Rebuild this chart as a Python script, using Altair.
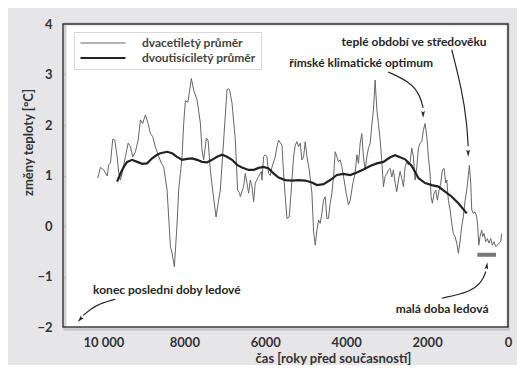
import altair as alt
import pandas as pd

# --- data -------------------------------------------------------------
thin_years = [10140, 10074, 9992, 9908, 9869, 9827, 9770, 9721, 9661, 9622, 9580, 9538, 9457, 9390,
              9333, 9276, 9210, 9143, 9086, 9029, 8963, 8896, 8839, 8782, 8716, 8649, 8567, 8511,
              8427, 8345, 8303, 8246, 8180, 8141, 8098, 8057, 8017, 7975, 7913, 7827, 7770, 7686,
              7605, 7563, 7523, 7456, 7414, 7358, 7301, 7217, 7153, 7111, 7029, 6945, 6905, 6881,
              6822, 6740, 6684, 6634, 6618, 6536, 6494, 6452, 6412, 6370, 6329, 6288, 6247, 6165,
              6098, 6081, 6042, 6000, 5958, 5918, 5876, 5834, 5753, 5711, 5671, 5587, 5548, 5506,
              5464, 5407, 5358, 5301, 5259, 5217, 5177, 5136, 5094, 5053, 5012, 4970, 4913, 4847,
              4807, 4765, 4723, 4683, 4642, 4600, 4560, 4518, 4477, 4437, 4395, 4353, 4312, 4271,
              4229, 4189, 4148, 4106, 4066, 4000, 3943, 3901, 3834, 3778, 3736, 3696, 3654, 3613,
              3573, 3531, 3489, 3449, 3407, 3366, 3326, 3284, 3242, 3203, 3160, 3118, 3079, 3037,
              2995, 2955, 2913, 2872, 2832, 2790, 2749, 2708, 2667, 2625, 2585, 2543, 2501, 2461,
              2420, 2378, 2338, 2296, 2254, 2215, 2173, 2131, 2091, 2049, 2007, 1968, 1926, 1901,
              1869, 1827, 1785, 1746, 1704, 1662, 1622, 1580, 1538, 1514, 1474, 1432, 1390, 1351,
              1309, 1267, 1227, 1185, 1143, 1104, 1062, 1020, 980, 955, 921, 896, 857, 815, 773,
              748, 723, 691, 649, 625, 593, 551, 511, 469, 427, 388, 346, 304, 264, 222, 180, 156]
thin_values = [0.95, 1.16, 1.11, 0.99, 1.21, 1.25, 1.72, 1.70, 1.37, 1.05, 0.91, 1.05, 1.37, 1.64,
               1.57, 1.37, 1.47, 1.70, 2.10, 2.03, 2.20, 2.03, 1.83, 1.77, 1.57, 1.41, 1.24, 1.17,
               0.71, -0.41, -0.54, -0.81, 0.06, 0.71, 1.04, 1.37, 2.03, 2.48, 2.45, 2.92, 2.69, 2.50,
               2.04, 1.50, 1.31, 1.74, 1.70, 1.11, 0.71, 0.18, 0.51, 0.71, 1.70, 2.70, 2.72, 2.69,
               2.43, 1.70, 0.71, 0.65, 0.58, 0.78, 1.04, 0.85, 0.65, 0.91, 0.78, 0.48, 0.85, 0.98,
               1.08, 0.91, 1.37, 1.41, 1.37, 1.04, 1.00, 1.17, 1.37, 1.57, 1.70, 1.60, 1.04, 0.58,
               0.15, 0.18, 0.71, 1.37, 1.60, 1.67, 1.57, 1.64, 1.31, 1.37, 1.67, 1.37, 1.11, 0.65,
               -0.10, -0.38, -0.08, 0.12, 0.05, 0.25, 0.51, 0.58, 0.15, 0.15, 0.45, 0.65, 0.98, 1.47,
               1.37, 1.27, 1.31, 1.17, 0.98, 0.65, 0.42, 0.51, 0.85, 1.04, 1.41, 1.24, 1.64, 1.83,
               1.37, 1.11, 1.37, 1.54, 1.64, 2.00, 2.30, 2.89, 2.30, 2.03, 1.70, 1.27, 0.78, 0.98,
               1.04, 1.11, 1.14, 0.97, 1.11, 0.85, 0.68, 0.91, 1.08, 0.94, 0.78, 1.17, 1.27, 1.21,
               1.27, 1.54, 1.37, 0.91, 1.17, 1.54, 1.64, 1.67, 1.90, 2.03, 1.77, 1.37, 1.04, 0.58,
               0.45, 0.65, 0.71, 0.51, 0.71, 0.85, 1.11, 1.14, 0.85, 0.91, 0.51, 0.32, 0.05, -0.15,
               -0.21, -0.34, -0.54, -0.30, 0.00, 0.18, 0.50, 0.71, 1.00, 1.20, 0.85, 0.32, 0.25, 0.28, 0.18,
               -0.01, -0.38, -0.21, -0.08, -0.21, -0.15, -0.31, -0.25, -0.34, -0.25, -0.38, -0.31, -0.41,
               -0.38, -0.34, -0.31, -0.15]

thick_years = [9661, 9580, 9498, 9414, 9291, 9167, 9044, 8921, 8797, 8674, 8592, 8427, 8303, 8180,
               8057, 7933, 7810, 7686, 7563, 7439, 7316, 7192, 7069, 6945, 6822, 6698, 6575, 6412,
               6288, 6165, 6042, 5918, 5795, 5671, 5506, 5340, 5177, 5012, 4847, 4723, 4560, 4395,
               4229, 4066, 3901, 3736, 3573, 3407, 3242, 3079, 2913, 2790, 2543, 2378, 2215, 2049,
               1884, 1721, 1555, 1390, 1227, 1020]
thick_values = [0.88, 1.04, 1.17, 1.27, 1.31, 1.27, 1.23, 1.24, 1.34, 1.41, 1.44, 1.47, 1.44, 1.37,
                1.31, 1.33, 1.34, 1.31, 1.27, 1.26, 1.31, 1.37, 1.41, 1.37, 1.31, 1.21, 1.16, 1.11,
                1.11, 1.15, 1.17, 1.14, 1.04, 0.96, 0.91, 0.90, 0.91, 0.90, 0.86, 0.81, 0.83, 0.91,
                1.01, 1.03, 1.01, 1.06, 1.12, 1.19, 1.24, 1.27, 1.36, 1.40, 1.32, 1.19, 0.95, 0.85,
                0.81, 0.78, 0.68, 0.58, 0.45, 0.25]

series_names = ["dvacetiletý průměr", "dvoutisíciletý průměr"]

x_ticks = [10000, 8000, 6000, 4000, 2000, 0]
y_ticks = [-2, -1, 0, 1, 2, 3, 4]
x_domain = [11000, 0]
y_domain = [-2, 4]

# annotations (year, value)
label_texts = ["teplé období ve středověku", "římské klimatické optimum",
               "konec poslední doby ledové", "malá doba ledová"]
label_years = [2321, 3630, 8432, 1630]
label_values = [3.65, 3.23, -1.27, -1.64]

# arrows: id, year, value
arrow_ids = ["rim"] * 4 + ["stred"] * 4 + ["konec"] * 3 + ["mala"] * 4
arrow_years = [2963, 2420, 2173, 2099,
               1390, 1136, 1012, 985,
               9703, 10197, 10500,
               1637, 938, 642, 548]
arrow_values = [3.05, 2.85, 2.59, 2.34,
                3.49, 2.69, 2.00, 1.58,
                -1.45, -1.56, -1.77,
                -1.43, -1.31, -1.11, -0.90]
head_years = [2099, 985, 10567, 526]
head_values = [2.22, 1.45, -1.84, -0.80]
head_angles = [180, 180, 220, 10]

lia_start, lia_end, lia_value = 757, 296, -0.57

# --- tables -------------------------------------------------------------
lines_df = pd.DataFrame({
    "rok": thin_years + thick_years,
    "t": thin_values + thick_values,
    "rada": [series_names[0]] * len(thin_years) + [series_names[1]] * len(thick_years),
})
labels_df = pd.DataFrame({"text": label_texts, "rok": label_years, "t": label_values})
arrows_df = pd.DataFrame({"id": arrow_ids, "rok": arrow_years, "t": arrow_values,
                          "o": list(range(len(arrow_ids)))})
heads_df = pd.DataFrame({"rok": head_years, "t": head_values, "a": head_angles})
lia_df = pd.DataFrame({"r1": [lia_start], "r2": [lia_end], "t": [lia_value]})
frame_df = pd.DataFrame({"r1": [x_domain[0]], "r2": [x_domain[1]],
                         "t1": [y_domain[0]], "t2": [y_domain[1]]})

FONT = "Lato"
x_scale = alt.Scale(domain=x_domain, nice=False, zero=False)
y_scale = alt.Scale(domain=y_domain, nice=False)

x_axis = alt.Axis(values=x_ticks, title="čas [roky před současností]", format="d",
                  labelExpr="datum.value == 10000 ? '10 000' : datum.label",
                  ticks=False, domain=False, labelPadding=9, labelFontSize=13,
                  labelFont=FONT, labelFontWeight="bold", labelColor="#333",
                  titleFont=FONT, titleFontWeight="bold", titleFontSize=13, titleColor="#333",
                  titleX=270, titleY=31, titleBaseline="middle",
                  grid=True, gridDash=[2, 2], gridColor="#c9c9c9", labelFlush=False)
y_axis = alt.Axis(values=y_ticks, title="změny teploty [°C]",
                  labelExpr="replace(datum.label, '-', '−')",
                  ticks=False, domain=False, labelPadding=11, labelFontSize=13,
                  labelFont=FONT, labelFontWeight="bold", labelColor="#333",
                  titleFont=FONT, titleFontWeight="bold", titleFontSize=13, titleColor="#333",
                  titleX=-35, titleY=118, titleAngle=270, titleBaseline="middle", titleAlign="center",
                  grid=True, gridDash=[2, 2], gridColor="#c9c9c9")

legend = alt.Legend(title=None, orient="none", legendX=11, legendY=8, fillColor="white",
                    padding=5, symbolType="stroke", symbolSize=2025, labelFont=FONT,
                    labelFontWeight="bold", labelFontSize=12, labelColor="#444",
                    labelOffset=15, rowPadding=3, clipHeight=12, cornerRadius=0,
                    strokeColor="#d8d8d8")

shadow = alt.Chart(frame_df).mark_rect(fill="white", stroke="#9a9a9a", strokeWidth=3,
                                       strokeOpacity=0.45, xOffset=2, yOffset=2).encode(
    x=alt.X("r1:Q", scale=x_scale, axis=x_axis), x2="r2:Q",
    y=alt.Y("t1:Q", scale=y_scale, axis=y_axis), y2="t2:Q")

lines = alt.Chart(lines_df).mark_line(interpolate="linear").encode(
    x=alt.X("rok:Q", scale=x_scale, axis=x_axis),
    y=alt.Y("t:Q", scale=y_scale, axis=y_axis),
    color=alt.Color("rada:N", scale=alt.Scale(domain=series_names, range=["#666666", "#222222"]),
                    legend=legend),
    strokeWidth=alt.StrokeWidth("rada:N", scale=alt.Scale(domain=series_names, range=[1, 2.2]),
                                legend=legend),
    order=alt.Order("rada:N"),
)

lia = alt.Chart(lia_df).mark_rule(color="#777777", strokeWidth=4).encode(
    x="r1:Q", x2="r2:Q", y="t:Q")

arrows = alt.Chart(arrows_df).mark_line(interpolate="basis", color="#262626", strokeWidth=1.2).encode(
    x="rok:Q", y="t:Q", detail="id:N", order="o:Q")

heads = alt.Chart(heads_df).mark_point(shape="M0,-1L0.45,0.7L0,0.4L-0.45,0.7Z", filled=True,
                                       color="#262626", size=70, opacity=1).encode(
    x="rok:Q", y="t:Q", angle=alt.Angle("a:Q", scale=None))

labels = alt.Chart(labels_df).mark_text(font=FONT, fontWeight="bold", fontSize=12,
                                        color="#262626").encode(
    x="rok:Q", y="t:Q", text="text:N")

frame = alt.Chart(frame_df).mark_rect(fill=None, fillOpacity=0, stroke="#3a3a3a",
                                      strokeWidth=1.5).encode(
    x="r1:Q", x2="r2:Q", y="t1:Q", y2="t2:Q")

chart = alt.layer(shadow, lines, lia, arrows, heads, labels, frame).properties(
    width=445, height=303,
    autosize=alt.AutoSizeParams(type="none"),
    padding={"left": 55, "top": 16, "right": 9, "bottom": 38},
    background="#e6e6e8",
).configure_view(stroke=None, fill="white")

chart.save("out.html", embed_options={"renderer": "svg", "actions": False})
